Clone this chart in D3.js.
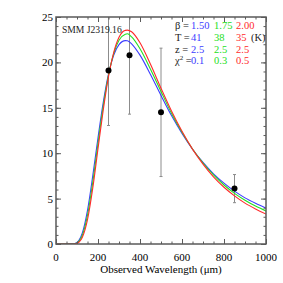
<!DOCTYPE html>
<html>
<head>
<meta charset="utf-8">
<script src="https://cdn.jsdelivr.net/npm/d3@7/dist/d3.min.js"></script>
<style>
body { margin: 0; background: #fff; }
text { font-family: "Liberation Serif", "Times New Roman", serif; }
</style>
</head>
<body>
<svg width="283" height="283"></svg>
<script>
// model curves (observed wavelength in um, flux)
var wavelengths = [0, 50, 80, 90, 100, 110, 125, 150, 175, 200, 225, 250, 275, 300, 330, 340, 360, 400, 450, 500, 550, 600, 650, 700, 750, 800, 850, 900, 950, 1000];
var blueFlux  = [0, 0, 0.01, 0.05, 0.17, 0.43, 1.19, 3.71, 7.5, 11.7, 15.6, 18.7, 20.8, 21.96, 22.4, 22.38, 22.05, 20.8, 18.67, 16.36, 14.14, 12.17, 10.44, 8.98, 7.73, 6.7, 5.82, 5.08, 4.48, 3.95];
var greenFlux = [0, 0, 0, 0.04, 0.12, 0.31, 0.93, 3.17, 6.8, 11.1, 15.2, 18.6, 21.0, 22.45, 23.1, 23.15, 22.8, 21.5, 19.25, 16.8, 14.4, 12.3, 10.46, 8.92, 7.6, 6.5, 5.58, 4.82, 4.18, 3.64];
var redFlux   = [0, 0, 0, 0.02, 0.075, 0.22, 0.71, 2.68, 6.15, 10.5, 14.76, 18.43, 21.1, 22.76, 23.53, 23.55, 23.37, 22.16, 19.79, 17.16, 14.65, 12.41, 10.45, 8.8, 7.4, 6.25, 5.3, 4.5, 3.86, 3.3];

// measured points
var obsWave = [250, 350, 500, 850];
var obsFlux = [19.1, 20.8, 14.5, 6.1];
var obsErr  = [6.05, 6.5, 7.07, 1.55];

// legend
var betaVals = ["1.50", "1.75", "2.00"];
var tempVals = ["41", "38", "35"];
var zVals    = ["2.5", "2.5", "2.5"];
var chiVals  = ["0.1", "0.3", "0.5"];
var modelColors = ["#3c3cff", "#22e022", "#ff2a2a"];

var xTicks = [0, 200, 400, 600, 800, 1000];
var yTicks = [0, 5, 10, 15, 20, 25];

function draw() {
    var svg = d3.select("svg");
    var left = 56, right = 266, plotTop = 17, bottom = 244;

    var x = d3.scaleLinear().domain([0, 1000]).range([left, right]);
    var y = d3.scaleLinear().domain([0, 25]).range([bottom, plotTop]);

    svg.append("defs").append("clipPath").attr("id", "plotclip")
        .append("rect").attr("x", left).attr("y", plotTop).attr("width", right - left).attr("height", bottom - plotTop);

    var plot = svg.append("g").attr("clip-path", "url(#plotclip)");

    // error bars
    obsWave.forEach(function(w, i) {
        var lo = obsFlux[i] - obsErr[i], hi = obsFlux[i] + obsErr[i];
        plot.append("line")
            .attr("x1", x(w)).attr("x2", x(w))
            .attr("y1", y(lo)).attr("y2", y(hi))
            .attr("stroke", "#8c8c8c").attr("stroke-width", 1);
        [lo, hi].forEach(function(v) {
            plot.append("line")
                .attr("x1", x(w) - 1.5).attr("x2", x(w) + 1.5)
                .attr("y1", y(v)).attr("y2", y(v))
                .attr("stroke", "#8c8c8c").attr("stroke-width", 1);
        });
    });

    // model curves
    var line = d3.line()
        .x(function(d) { return x(d[0]); })
        .y(function(d) { return y(d[1]); })
        .curve(d3.curveMonotoneX);

    [blueFlux, greenFlux, redFlux].forEach(function(series, k) {
        plot.append("path")
            .datum(wavelengths.map(function(w, i) { return [w, series[i]]; }))
            .attr("d", line)
            .attr("fill", "none")
            .attr("stroke", modelColors[k])
            .attr("stroke-width", 1.1);
    });

    // points
    plot.selectAll("circle.obs")
        .data(obsWave)
        .enter()
        .append("circle")
        .attr("cx", function(d) { return x(d); })
        .attr("cy", function(d, i) { return y(obsFlux[i]); })
        .attr("r", 3)
        .attr("fill", "#000");

    // axes, ticks inside on all four sides
    var axisColor = "#5a5a5a";
    var frame = svg.append("g");

    frame.append("g").attr("transform", "translate(0," + bottom + ")")
        .call(d3.axisTop(x).tickValues(d3.range(0, 1001, 50)).tickSize(2.5).tickFormat(""));
    frame.append("g").attr("transform", "translate(0," + bottom + ")")
        .call(d3.axisTop(x).tickValues(xTicks).tickSize(5).tickFormat(""));
    frame.append("g").attr("transform", "translate(0," + plotTop + ")")
        .call(d3.axisBottom(x).tickValues(d3.range(0, 1001, 50)).tickSize(2.5).tickFormat(""));
    frame.append("g").attr("transform", "translate(0," + plotTop + ")")
        .call(d3.axisBottom(x).tickValues(xTicks).tickSize(5).tickFormat(""));

    frame.append("g").attr("transform", "translate(" + left + ",0)")
        .call(d3.axisRight(y).tickValues(d3.range(0, 26, 1)).tickSize(2.5).tickFormat(""));
    frame.append("g").attr("transform", "translate(" + left + ",0)")
        .call(d3.axisRight(y).tickValues(yTicks).tickSize(5).tickFormat(""));
    frame.append("g").attr("transform", "translate(" + right + ",0)")
        .call(d3.axisLeft(y).tickValues(d3.range(0, 26, 1)).tickSize(2.5).tickFormat(""));
    frame.append("g").attr("transform", "translate(" + right + ",0)")
        .call(d3.axisLeft(y).tickValues(yTicks).tickSize(5).tickFormat(""));

    frame.selectAll(".domain").remove();
    frame.selectAll(".tick line").attr("stroke", axisColor).attr("stroke-width", 1);

    frame.append("rect")
        .attr("x", left).attr("y", plotTop)
        .attr("width", right - left).attr("height", bottom - plotTop)
        .attr("fill", "none").attr("stroke", axisColor).attr("stroke-width", 1.5);

    // tick labels
    svg.selectAll("text.xl")
        .data(xTicks)
        .enter()
        .append("text")
        .attr("x", function(d) { return x(d); })
        .attr("y", 261)
        .attr("text-anchor", "middle")
        .attr("font-size", 11)
        .text(function(d) { return d; });

    svg.selectAll("text.yl")
        .data(yTicks)
        .enter()
        .append("text")
        .attr("x", 53)
        .attr("y", function(d) { return y(d) + 4; })
        .attr("text-anchor", "end")
        .attr("font-size", 11)
        .text(function(d) { return d; });

    svg.append("text")
        .attr("x", (left + right) / 2)
        .attr("y", 273)
        .attr("text-anchor", "middle")
        .attr("font-size", 11)
        .text("Observed Wavelength (\u03bcm)");

    svg.append("text")
        .attr("x", 62)
        .attr("y", 33)
        .attr("font-size", 9.6)
        .attr("fill", "#222")
        .text("SMM J2319.16");

    // legend block
    var rows = [
        {label: "\u03b2 =", vals: betaVals, unit: ""},
        {label: "T =", vals: tempVals, unit: "(K)"},
        {label: "z  =", vals: zVals, unit: ""},
        {label: "\u03c7", vals: chiVals, unit: ""}
    ];
    var colX = [191, 214, 236];
    rows.forEach(function(r, i) {
        var ry = 29 + i * 11.8;
        var lab = svg.append("text").attr("x", 175).attr("y", ry).attr("font-size", 10.5).attr("fill", "#222");
        if (i === 3) {
            lab.text("\u03c7");
            lab.append("tspan").attr("dy", -4).attr("font-size", 7).text("2");
            lab.append("tspan").attr("dy", 4).text(" =");
        } else {
            lab.text(r.label);
        }
        r.vals.forEach(function(v, k) {
            svg.append("text")
                .attr("x", colX[k]).attr("y", ry)
                .attr("font-size", 10.5)
                .attr("fill", modelColors[k])
                .text(v);
        });
        if (r.unit) {
            svg.append("text").attr("x", 251).attr("y", ry).attr("font-size", 10.5).attr("fill", "#222").text(r.unit);
        }
    });
}

draw();
</script>
</body>
</html>
